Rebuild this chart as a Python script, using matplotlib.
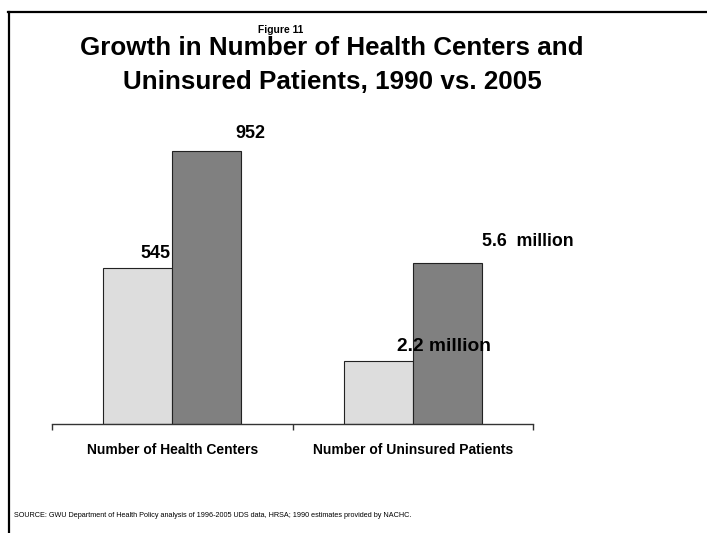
import numpy as np
import matplotlib.pyplot as plt
from matplotlib.lines import Line2D

plt.rcParams['font.family'] = ['Liberation Sans', 'DejaVu Sans']

categories = ['Number of Health Centers', 'Number of Uninsured Patients']
years = ['1990', '2005']
health_centers = [545, 952]
uninsured_millions = [2.2, 5.6]
labels_1990 = ['545', '2.2 million']
labels_2005 = ['952', '5.6  million']

# uninsured shown on the same bar scale (millions x 100)
vals_1990 = [health_centers[0], uninsured_millions[0] * 100]
vals_2005 = [health_centers[1], uninsured_millions[1] * 100]

W, H = 707, 533
fig = plt.figure(figsize=(W / 100, H / 100), dpi=100)
ax = fig.add_axes([52 / W, 1 - 424 / H, 481 / W, 287 / H])

ind = np.arange(len(categories)) + 0.5
width = 0.287
r1 = ax.bar(ind - width / 2, vals_1990, width, color='#dddddd', edgecolor='#222222', linewidth=0.8)
r2 = ax.bar(ind + width / 2, vals_2005, width, color='#808080', edgecolor='#222222', linewidth=0.8)

ax.set_xlim(0, 2)
ax.set_ylim(0, 1000)
for s in ['left', 'right', 'top']:
    ax.spines[s].set_visible(False)
ax.spines['bottom'].set_linewidth(1.0)
ax.spines['bottom'].set_color('#333333')
ax.set_yticks([])
ax.set_xticks([0, 1, 2])
ax.set_xticklabels([])
ax.tick_params(axis='x', which='major', length=4, width=1.0, color='#333333')
ax.set_xticks(ind, minor=True)
ax.set_xticklabels(categories, minor=True, fontsize=10, fontweight='bold')
ax.tick_params(axis='x', which='minor', length=0, pad=14)

# value labels, nudged as in the original slide (pixels)
offs_1990 = [(18, 10), (66, 10)]
offs_2005 = [(44, 13), (81, 17)]
for rects, labs, offs, sizes in [(r1, labels_1990, offs_1990, [13, 13.8]),
                                 (r2, labels_2005, offs_2005, [13, 12.8])]:
    for rect, lab, (dx, dy), fs in zip(rects, labs, offs, sizes):
        ax.annotate(lab, (rect.get_x() + rect.get_width() / 2, rect.get_height()),
                    xytext=(dx, dy), textcoords='offset pixels',
                    ha='center', va='baseline', fontsize=fs, fontweight='bold')

fig.text(281 / W, 1 - 33 / H, 'Figure 11', ha='center', va='baseline', fontsize=7.4, fontweight='bold')
fig.text(332 / W, 1 - 55 / H, 'Growth in Number of Health Centers and', ha='center', va='baseline',
         fontsize=18.7, fontweight='bold')
fig.text(332 / W, 1 - 89 / H, 'Uninsured Patients, 1990 vs. 2005', ha='center', va='baseline',
         fontsize=18.7, fontweight='bold')
fig.text(14 / W, 1 - 517 / H,
         'SOURCE: GWU Department of Health Policy analysis of 1996-2005 UDS data, HRSA; 1990 estimates provided by NACHC.',
         ha='left', va='baseline', fontsize=5.2)

# slide frame
fig.add_artist(Line2D([8 / W, 1], [1 - 12 / H, 1 - 12 / H], color='black', linewidth=1.6))
fig.add_artist(Line2D([9 / W, 9 / W], [0, 1 - 12 / H], color='black', linewidth=1.6))

fig.savefig('out.png', dpi=100)
